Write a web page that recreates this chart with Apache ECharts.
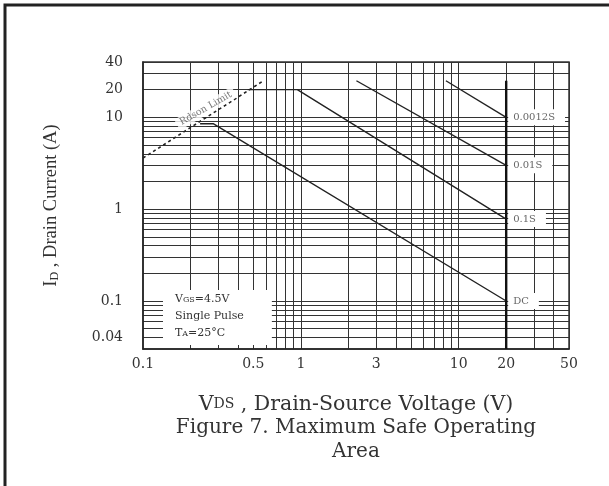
<!DOCTYPE html>
<html><head><meta charset="utf-8">
<script src="https://cdn.jsdelivr.net/npm/echarts@6/dist/echarts.min.js"></script>
<style>html,body{margin:0;padding:0;background:#fff}#c{width:609px;height:486px}</style>
</head><body><div id="c"></div>
<script>
// ---- data (V in volts, A in amperes) ----
const xTickLabels = [0.1, 0.5, 1, 3, 10, 20, 50];
const yTickLabels = [0.04, 0.1, 1, 10, 20, 40];
const xGridValues = [0.2,0.3,0.4,0.5,0.6,0.7,0.8,0.9,1,2,3,4,5,6,7,8,9,10,20,30,40,50];
const yGridValues = [0.04,0.05,0.06,0.07,0.08,0.09,0.1,0.2,0.3,0.4,0.5,0.6,0.7,0.8,0.9,1,2,3,4,5,6,7,8,9,10,20,30,40];
const rdsLimit   = [[0.1, 3.6], [0.58, 25]];
const curveDC    = [[0.23, 8.5], [0.28, 8.5], [20, 0.1]];
const curve100ms = [[0.46, 20], [0.95, 20], [20, 0.78]];
const curve10ms  = [[2.25, 25], [20, 3]];
const curve1_2ms = [[8.3, 25], [20, 10]];
const vdsMax     = [[20, 25], [20, 0.03]];
const rdsLabelAt = [[0.25, 12.5]];
const curveNames = ['DC', '0.1S', '0.01S', '0.0012S'];

const serif = 'DejaVu Serif';
const ink = '#222';
const chart = echarts.init(document.getElementById('c'), null, {renderer: 'canvas'});

function curve(name, data) {
  return {
    name, type: 'line', data, symbol: 'none', silent: true,
    lineStyle: {color: ink, width: 1.4},
    endLabel: {
      show: true, formatter: '{a}', color: '#666', fontFamily: serif, fontSize: 10,
      backgroundColor: '#fff', padding: [3, 10, 3, 5], distance: 2
    },
    z: 3
  };
}

chart.setOption({
  animation: false,
  backgroundColor: '#fff',
  grid: {left: 143, right: 40, top: 62, bottom: 137, show: true, borderColor: '#333', borderWidth: 1.5},
  xAxis: {
    type: 'log', logBase: 10, min: 0.1, max: 50,
    name: '{b|V}{s|DS}{b| , Drain-Source Voltage (V)}',
    nameLocation: 'middle', nameGap: 45,
    nameTextStyle: {rich: {
      b: {fontFamily: serif, fontSize: 20.5, color: '#333'},
      s: {fontFamily: serif, fontSize: 14, color: '#333'}
    }},
    axisLine: {show: true, lineStyle: {color: '#222', width: 1.5}},
    axisTick: {show: false, customValues: xGridValues},
    axisLabel: {customValues: xTickLabels, fontFamily: serif, fontSize: 14, color: '#333', margin: 8,
      formatter: v => String(v)},
    splitLine: {show: true, lineStyle: {color: '#333', width: 1}},
    minorSplitLine: {show: false}
  },
  yAxis: {
    type: 'log', logBase: 10, min: 0.03, max: 40,
    name: '{b|I}{s|D}{b| , Drain Current (A)}',
    nameLocation: 'middle', nameGap: 82, nameRotate: 90,
    nameTextStyle: {rich: {
      b: {fontFamily: 'Liberation Serif', fontSize: 18.5, color: '#333'},
      s: {fontFamily: 'Liberation Serif', fontSize: 12, color: '#333', verticalAlign: 'bottom'}
    }},
    axisLine: {show: true, lineStyle: {color: '#222', width: 1.5}},
    axisTick: {show: false, customValues: yGridValues},
    axisLabel: {customValues: yTickLabels, fontFamily: serif, fontSize: 14, color: '#333', margin: 20,
      formatter: v => String(v)},
    splitLine: {show: true, lineStyle: {color: '#333', width: 1}},
    minorSplitLine: {show: false}
  },
  title: {
    text: '{a|V}{s|GS}{a|=4.5V}\n{a|Single Pulse}\n{a|T}{s|A}{a|=25°C}',
    left: 163, top: 287, backgroundColor: '#fff', padding: [4, 28, 6, 12],
    textStyle: {fontWeight: 'normal', rich: {
      a: {fontFamily: serif, fontSize: 11, fontWeight: 'normal', color: '#333', lineHeight: 17},
      s: {fontFamily: serif, fontSize: 8, fontWeight: 'normal', color: '#333', lineHeight: 17}
    }}
  },
  graphic: [
    {type: 'rect', shape: {x: 5, y: 5, width: 700, height: 600}, style: {fill: null, stroke: '#222', lineWidth: 3}, z: 100, silent: true},
    {type: 'text', x: 356, y: 416, silent: true,
      style: {text: 'Figure 7. Maximum Safe Operating\nArea', align: 'center', fill: '#333',
        font: '20px "DejaVu Serif"', lineHeight: 24}}
  ],
  series: [
    {name: 'Rdson Limit', type: 'line', data: rdsLimit, symbol: 'none', silent: true,
      lineStyle: {color: ink, width: 1.6, type: [3, 3]}, z: 3},
    curve(curveNames[0], curveDC),
    curve(curveNames[1], curve100ms),
    curve(curveNames[2], curve10ms),
    curve(curveNames[3], curve1_2ms),
    {name: 'VDS max', type: 'line', data: vdsMax, symbol: 'none', silent: true,
      lineStyle: {color: '#111', width: 2.4}, z: 4},
    {name: 'rdsLabel', type: 'scatter', data: rdsLabelAt, symbolSize: 0, silent: true,
      label: {show: true, position: 'inside', formatter: 'Rdson Limit', rotate: 30,
        fontFamily: serif, fontSize: 9.5, color: '#555', backgroundColor: '#fff', padding: [1, 4]}, z: 5}
  ]
});
</script></body></html>
